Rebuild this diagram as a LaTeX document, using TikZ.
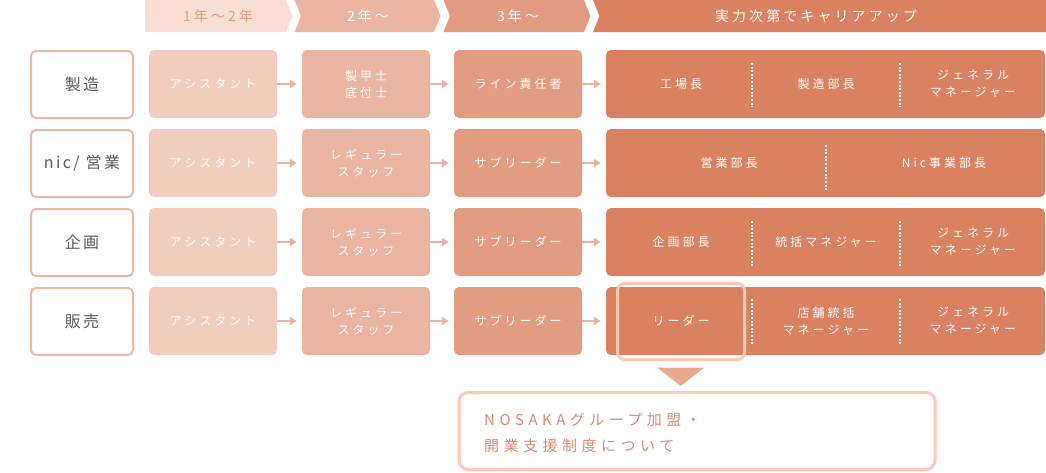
\documentclass[tikz,border=0pt]{standalone}
\usepackage{fontspec}
\setmainfont{Noto Sans CJK JP}
\usetikzlibrary{arrows.meta}
\definecolor{hdA}{HTML}{F7DFD6}
\definecolor{hdAtext}{HTML}{E39A80}
\definecolor{hdB}{HTML}{EBB5A1}
\definecolor{hdC}{HTML}{E29A80}
\definecolor{hdD}{HTML}{DA8162}
\definecolor{colA}{HTML}{F1CDBF}
\definecolor{colB}{HTML}{E9B4A0}
\definecolor{colC}{HTML}{E29C82}
\definecolor{colD}{HTML}{DA8162}
\definecolor{lblborder}{HTML}{EEB8A4}
\definecolor{graytext}{HTML}{5A5A5A}
\definecolor{arrcol}{HTML}{EDB29D}
\definecolor{hilite}{HTML}{FDC9B5}
\definecolor{tricol}{HTML}{E8A98F}
\definecolor{infoborder}{HTML}{FCCAB7}
\definecolor{infotext}{HTML}{DE8B70}
\newcommand\hdfont{\fontsize{14}{17}\selectfont\addfontfeatures{LetterSpace=22}}
\newcommand\lblfont{\fontsize{16}{19}\selectfont\addfontfeatures{LetterSpace=15}}
\newcommand\bxfont{\fontsize{12}{17}\selectfont\addfontfeatures{LetterSpace=25}}
\newcommand\infofont{\fontsize{15}{26}\selectfont\addfontfeatures{LetterSpace=30}}
\begin{document}
\begin{tikzpicture}[x=1pt,y=-1pt,
  hdtext/.style={text=white,font=\hdfont,inner sep=0pt},
  lblbox/.style={draw=lblborder,line width=2pt,rounded corners=5pt,fill=white,
    minimum width=102pt,minimum height=67pt,inner sep=0pt,text=graytext,font=\lblfont},
  stagebox/.style={rounded corners=5pt,minimum width=128pt,minimum height=68pt,
    inner sep=0pt,text=white,font=\bxfont,align=center},
  boxA/.style={stagebox,fill=colA},
  boxB/.style={stagebox,fill=colB},
  boxC/.style={stagebox,fill=colC},
  bigbox/.style={rounded corners=5pt,minimum width=439pt,minimum height=68pt,
    inner sep=0pt,fill=colD},
  role/.style={text=white,font=\bxfont,align=center,inner sep=0pt},
  arr/.style={draw=arrcol,line width=2pt,-{Triangle[length=7pt,width=8pt]},shorten >=5pt},
  sep/.style={draw=white,line width=2pt,dash pattern=on 2pt off 1.6pt},
]
\useasboundingbox (0,0) rectangle (1046,472);

% header
\fill[hdA] (145,0) -- (286,0) -- (292.5,16) -- (286,32) -- (145,32) -- cycle;
\fill[hdB] (294.5,0) -- (434,0) -- (440.5,16) -- (434,32) -- (294.5,32) -- (301,16) -- cycle;
\fill[hdC] (443.5,0) -- (584,0) -- (590.5,16) -- (584,32) -- (443.5,32) -- (450,16) -- cycle;
\fill[hdD] (593,0) -- (1046,0) -- (1046,32) -- (593,32) -- (599.5,16) -- cycle;
\node[hdtext,text=hdAtext] (h1) at (218,16) {1年〜2年};
\node[hdtext] (h2) at (368,16) {2年〜};
\node[hdtext] (h3) at (518,16) {3年〜};
\node[hdtext] (h4) at (816,16) {実力次第でキャリアアップ};

% row 1
\node[lblbox] (l1) at (82,84.5) {製造};
\node[boxA] (a1) at (213,84) {アシスタント};
\node[boxB] (b1) at (366,84) {製甲士\\底付士};
\node[boxC] (c1) at (518,84) {ライン責任者};
\node[bigbox] (d1) at (825.5,84) {};
\node[role] (r11) at (681,84) {工場長};
\node[role] (r12) at (826,84) {製造部長};
\node[role] (r13) at (973,84) {ジェネラル\\マネージャー};
\draw[sep] (752,63) -- (752,107);
\draw[sep] (900,63) -- (900,107);

% row 2
\node[lblbox] (l2) at (82,163.5) {nic/ 営業};
\node[boxA] (a2) at (213,163) {アシスタント};
\node[boxB] (b2) at (366,163) {レギュラー\\スタッフ};
\node[boxC] (c2) at (518,163) {サブリーダー};
\node[bigbox] (d2) at (825.5,163) {};
\node[role] (r21) at (729,163) {営業部長};
\node[role] (r22) at (944,163) {Nic事業部長};
\draw[sep] (826,145) -- (826,191);

% row 3
\node[lblbox] (l3) at (82,242.5) {企画};
\node[boxA] (a3) at (213,242) {アシスタント};
\node[boxB] (b3) at (366,242) {レギュラー\\スタッフ};
\node[boxC] (c3) at (518,242) {サブリーダー};
\node[bigbox] (d3) at (825.5,242) {};
\node[role] (r31) at (681,242) {企画部長};
\node[role] (r32) at (826,242) {統括マネジャー};
\node[role] (r33) at (973,242) {ジェネラル\\マネージャー};
\draw[sep] (752,221) -- (752,266);
\draw[sep] (900,221) -- (900,266);

% row 4
\node[lblbox] (l4) at (82,321.5) {販売};
\node[boxA] (a4) at (213,321) {アシスタント};
\node[boxB] (b4) at (366,321) {レギュラー\\スタッフ};
\node[boxC] (c4) at (518,321) {サブリーダー};
\node[bigbox] (d4) at (825.5,321) {};
\node[role] (r41) at (681,321) {リーダー};
\node[role] (r42) at (826,321) {店舗統括\\マネージャー};
\node[role] (r43) at (973,321) {ジェネラル\\マネージャー};
\draw[sep] (752,299) -- (752,344);
\draw[sep] (900,299) -- (900,344);

% arrows
\foreach \r in {1,2,3,4}{
  \draw[arr] (a\r.east) -- (b\r.west);
  \draw[arr] (b\r.east) -- (c\r.west);
  \draw[arr] (c\r.east) -- (d\r.west);
}

% highlight
\node[draw=hilite,line width=3pt,rounded corners=7pt,minimum width=127pt,
  minimum height=76pt,inner sep=0pt] (hl) at (681,321.5) {};
\fill[tricol] (657,367.5) -- (704.5,367.5) -- (680.75,386) -- cycle;

% info box
\node[draw=infoborder,line width=3pt,rounded corners=9pt,fill=white,
  minimum width=476pt,minimum height=77pt,inner sep=0pt] (info) at (697,431) {};
\node[anchor=west,text=infotext,font=\infofont,align=left,inner sep=0pt]
  (infotxt) at (484,432.5) {NOSAKAグループ加盟・\\開業支援制度について};
\end{tikzpicture}
\end{document}
